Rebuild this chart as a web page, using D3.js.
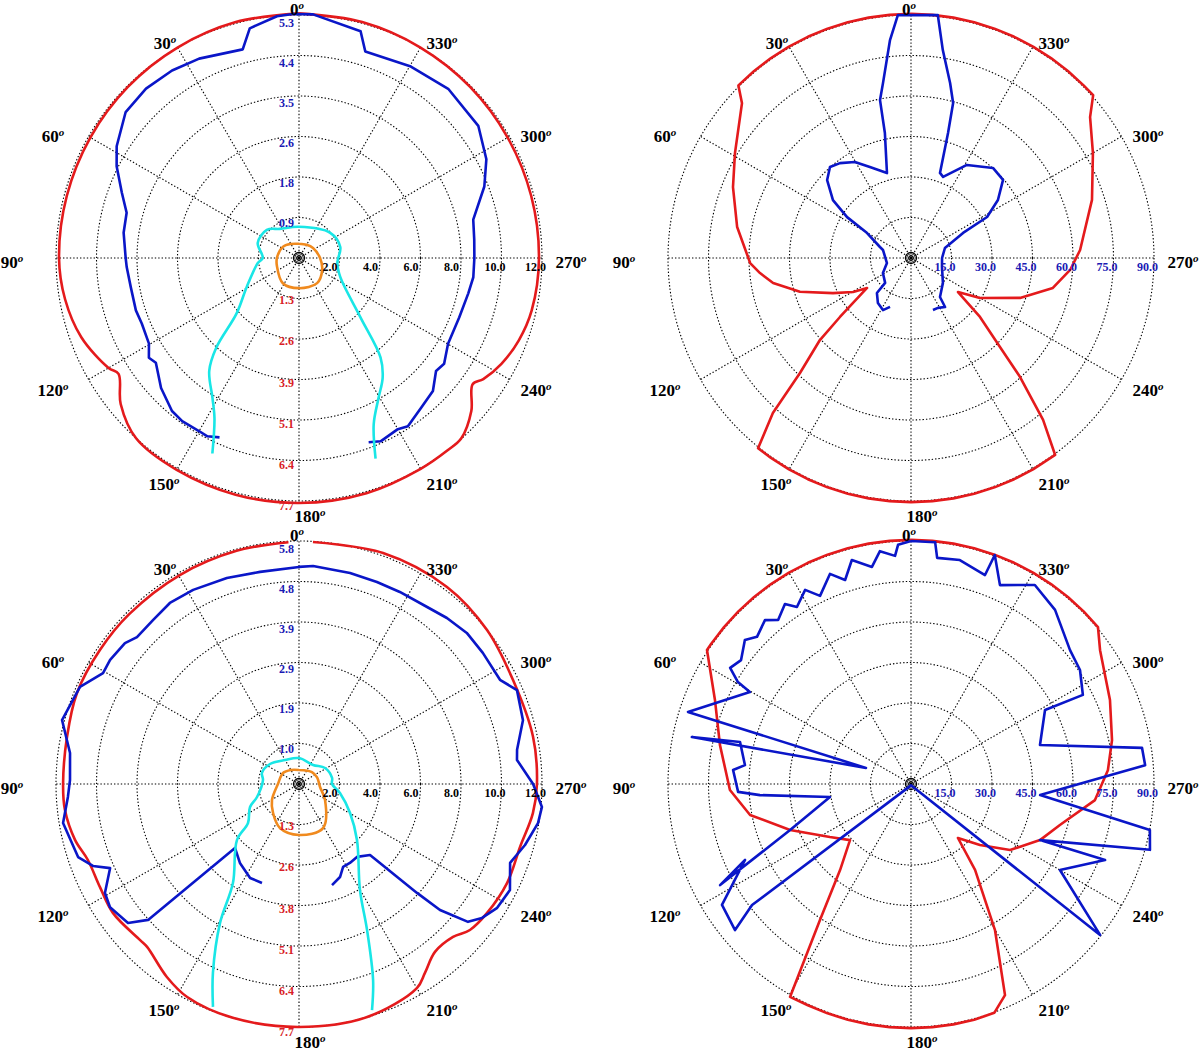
<html>
<head>
<script src="https://d3js.org/d3.v7.min.js"></script>
<style>
  body { margin: 0; background: #fff; }
  text { font-family: "Liberation Serif", "Times New Roman", serif; font-weight: bold; }
</style>
</head>
<body>
<script>
// ---- data (angle in degrees, counter-clockwise from top; radius in axis units) ----
const angleTicks = [0, 30, 60, 90, 120, 150, 180, 210, 240, 270, 300, 330];

const leftRings = [2, 4, 6, 8, 10, 12];
const leftRingLabels = ["2.0", "4.0", "6.0", "8.0", "10.0", "12.0"];
const rightRings = [15, 30, 45, 60, 75, 90];
const rightRingLabels = ["15.0", "30.0", "45.0", "60.0", "75.0", "90.0"];

const tlBlueScale = ["0.9", "1.8", "2.6", "3.5", "4.4", "5.3"];
const tlRedScale = ["1.3", "2.6", "3.9", "5.1", "6.4", "7.7"];
const blBlueScale = ["1.0", "1.9", "2.9", "3.9", "4.8", "5.8"];
const blRedScale = ["1.3", "2.6", "3.8", "5.1", "6.4", "7.7"];

// top-left
const tlRedA = [0,15,30,45,60,75,90,100,110,120,122.7,129.3,137.9,150,165,180,196,210,217.6,222,228.4,234,236.7,242.4,249.4,257.3,270,285,300,315,330,345,360];
const tlRedR = [12.08,12.06,12.0,11.95,11.9,11.87,11.85,11.73,11.44,10.86,10.59,11.38,12.0,12.08,12.1,12.1,12.08,12.02,12.0,11.98,11.38,10.6,10.89,11.28,11.59,11.78,11.85,11.87,11.9,11.95,12.0,12.06,12.08];
const tlBlueA = [156.1,152.8,150.1,144.4,140.3,133.3,126.2,123.6,119.7,112.6,107.8,99.9,93,90,81.8,75.3,69.7,63.3,58.5,49.9,42.1,34.1,26.6,15.1,12.1,5.2,1.4,-3.3,-15.2,-17.8,-30.3,-41.4,-53.6,-62.2,-68.9,-77.6,-84.1,-90,-96.3,-101.8,-110.4,-119.9,-126.1,-129.5,-134.8,-140.9,-147.1,-150,-156,-159.3];
const tlBlueR = [9.69,9.9,9.87,9.91,9.82,9.36,8.76,8.9,8.53,8.41,8.46,8.43,8.52,8.56,8.75,8.8,9.33,10.08,10.56,11.19,11.27,11.18,11.01,10.67,11.6,11.99,12.05,12.05,11.6,10.71,10.95,11.14,11.0,10.46,9.81,8.81,8.7,8.66,8.66,8.54,8.44,8.49,8.87,8.77,9.32,9.55,9.9,9.76,9.91,9.73];
const tlCyanA = [156.1,152.2,148.3,141.5,137.3,131.6,119.1,97,90,69.9,48.8,33.2,0,-51.1,-75,-90,-97.5,-114.9,-134,-140.7,-145.1,-150.4,-155.8,-159.1];
const tlCyanR = [10.56,8.95,8.13,7.12,6.02,4.12,2.96,2.05,1.79,2.17,2.11,1.72,1.54,1.98,2.11,1.94,1.91,2.25,4.22,6.36,7.22,7.95,9.0,10.6];
const tlOrangeA = [0,30,55.5,90,110,147.4,180,215.8,242.4,270,305.5,330,360];
const tlOrangeR = [0.7,0.8,0.97,1.09,1.16,1.48,1.49,1.53,1.29,1.04,0.85,0.75,0.7];

// top-right
const trRedA = [0,5,10,15,20,25,30,35,40,45,47.5,59.2,68.3,79.9,91.8,95.7,100.3,106.9,114.2,120.4,124.3,129.7,132,136,138.3,141.2,
  145,150,155,160,165,170,175,180,185,190,195,200,205,210,216.2,219.2,222.5,225,229.5,234.1,239.9,249.9,258.1,265.7,272.7,287.8,300,308.2,311.8,
  315,320,325,330,335,340,345,350,355,360];
const trRedR = [90.4,90.4,90.4,90.4,90.4,90.4,90.4,90.4,90.4,90.4,84.9,75.9,70.96,65.4,59.6,56.2,51.9,43,31.7,24.9,19.7,34.2,45.4,59.2,76.9,90.4,
  90.4,90.4,90.4,90.4,90.4,90.4,90.4,90.4,90.4,90.4,90.4,90.4,90.4,90.4,90.4,77.4,59.8,46.6,33.6,21.5,29.5,43,53.7,59.1,62.7,70.4,77.8,84.4,90.5,
  90.4,90.4,90.4,90.4,90.4,90.4,90.4,90.4,90.4,90.4];
const trBlueA = [156.8,151.7,143.7,135.8,133.9,118.2,101.8,74,70.5,60.4,57.4,53.4,47.1,41.7,36.8,30.3,24.3,15.8,11.8,11.1,9.1,5.5,3.1,-6.3,-8.7,-12.6,-15.2,-16.5,-18.8,-21.6,-31,-42.3,-49.7,-56.3,-61.7,-64.3,-73.6,-90,-106.2,-128,-143.4,-145.2,-151.6,-157.1];
const trBlueR = [19.7,21.9,20.7,18.1,13.3,11.8,9.1,10.8,12.2,18.7,28.1,36,42.4,45.1,43.9,41.2,37,32.7,47.3,59.6,65.6,81.1,90.1,90.5,77.9,66.4,59.5,48.3,33.3,32.3,40.2,45.1,44.7,38.7,32,21.4,13.1,11.5,11.95,15,18,22.1,21,20.9];

// bottom-left
const blRedA = [2.5,15,29.7,45,56,67.7,78.5,90,96.3,104,109.8,117.4,124.7,134.5,137,145.6,152.3,164.2,180,196.3,210,213.7,219,225.2,229.5,235.5,244.6,254.1,262.9,270,281.4,295.9,309.3,323.1,340,356.7];
const blRedR = [11.95,11.92,11.88,11.86,11.85,11.85,11.69,11.65,11.63,11.4,11.08,11.07,11.18,11.0,11.0,11.55,11.88,12.0,12.0,11.99,11.64,11.21,10.67,10.72,11.1,11.26,11.38,11.35,11.64,11.75,11.79,11.75,12.0,12.17,12.14,11.97];
const blBlueA = [159.5,152.5,143.2,135,132,129.1,123.1,119.3,114,111.7,108.3,99.4,93.2,89,82.3,74.9,66.1,60.5,56.7,51,47.8,41.7,35.5,28.6,19.3,10.4,0,-3.7,-13.6,-21.1,-27.7,-35.9,-41.7,-48,-54.5,-62.6,-66.7,-74.1,-81.1,-83.7,-90,-95.4,-99.3,-105.1,-110.5,-116.7,-122,-126.2,-129.2,-131.8,-132.7,-135,-141.5,-147.2,-152,-156.2,-161.9];
const blBlueR = [5.22,5.23,4.87,4.47,10.03,10.88,11.14,10.99,10.21,10.95,11.49,11.81,11.43,11.31,11.41,12.12,11.83,11.12,11.16,11.06,10.8,10.84,10.98,10.92,10.78,10.65,10.72,10.79,10.72,10.69,10.71,10.79,10.98,11.15,11.15,11.18,11.72,11.5,10.9,10.83,11.56,12.05,11.96,11.56,11.13,11.66,11.54,11.2,10.77,9.34,7.93,4.96,4.6,4.64,4.64,5.02,5.25];
const blCyanA = [158.9,155.5,150.4,146.3,132.1,127.4,115.1,107.2,83.7,73.4,55.4,30.3,0,-36.4,-58.4,-79.7,-90,-102.4,-119.6,-134,-150.1,-155,-159.3,-162.1];
const blCyanR = [11.8,10.25,7.9,5.88,4.13,3.17,2.67,2.17,1.79,1.91,1.74,1.37,1.28,1.17,1.51,1.66,1.63,2.07,2.9,3.98,6.04,7.95,10.35,11.73];
const blOrangeA = [0,30,55.5,90,120.6,138.1,156.6,180,208.6,238.4,261.9,290,312.7,340,360];
const blOrangeR = [0.69,0.8,0.96,1.04,1.55,1.92,2.37,2.52,2.48,1.51,1.05,0.95,0.87,0.72,0.69];

// bottom-right
const brRedA = [0,5,10,15,20,25,30,35,40,45,50,55,56.7,66.8,78.5,91.9,100.9,110.8,123.2,132.6,140.5,146.2,150.4,
  155,160,165,170,175,180,185,190,195,200,204,209.9,216.7,221,228.5,236.3,246.5,254.6,265,274,282.3,292.9,305.3,
  310,315,320,325,330,335,340,345,350,355,360];
const brRedR = [90.4,90.4,90.4,90.4,90.4,90.4,90.4,90.4,90.4,90.4,90.4,90.4,90.4,79,72.2,67.1,60.7,47.9,35.9,30.7,41.3,60.6,90.7,
  90.4,90.4,90.4,90.4,90.4,90.4,90.4,90.4,90.4,90.2,85.6,62.4,39.7,26.5,34.1,44.1,52.1,57.2,68.4,73.1,76.2,80,85.8,
  90.4,90.4,90.4,90.4,90.4,90.4,90.4,90.4,90.4,90.4,90.4];
const brBlueA = [0,3.1,4,7.6,10.2,14.8,17.9,21.1,25.8,28.6,32.8,35,39,41.7,46.3,49.1,53.9,57.3,59.5,60.3,72.1,70.4,77.9,76.2,83.5,85.5,92.6,94.2,99.1,110.8,117.9,114.6,122.6,129.7,127.3,180,
  231.4,240,248.6,246.5,254.6,259.1,265.1,274.6,278.9,286.8,298.9,297.4,304,310.1,320.4,328.1,335.9,339.9,340.5,347.7,353.4,354.3,360];
const brBlueR = [90,88.7,84.7,87,81.7,85.8,79.4,83.4,77.4,81.9,78,81.4,78.2,81.3,78.9,81.4,77.9,79.6,74.4,68.7,86.8,17.7,83,65.2,61.9,66.1,64.1,56.1,30.4,47.9,80,67.6,83.1,84.7,74,0.5,
  89.6,63.7,77.2,52.1,91.8,90.1,48,87,86.6,49.9,56.7,71.7,75.5,77,83.7,86.8,80.7,90.3,82.1,84.9,84.3,90,90];

// ---- layout ----
const W = 1200, H = 1051, R = 243;
const angleLabelPos = {0:[-2,-249],30:[-134,-215],60:[-246,-122],90:[-287,4],120:[-246,132],150:[-135,226],
  180:[11,258],210:[143,226],240:[237,132],270:[272,4],300:[237,-122],330:[143,-215]};

const colors = { red: "#e41a1c", blue: "#0a16c8", cyan: "#19e6e6", orange: "#f08a1e" };

const svg = d3.select("body").append("svg").attr("width", W).attr("height", H);

function drawPanel(p) {
  const g = svg.append("g").attr("transform", "translate(" + p.cx + "," + p.cy + ")");
  const r = d3.scaleLinear().domain([0, p.max]).range([0, R]);

  // spokes
  g.selectAll("line.spoke").data(angleTicks).enter().append("line")
    .attr("x1", 0).attr("y1", 0)
    .attr("x2", d => -R * Math.sin(d * Math.PI / 180))
    .attr("y2", d => -R * Math.cos(d * Math.PI / 180))
    .attr("stroke", "#000").attr("stroke-width", 1.1).attr("stroke-dasharray", "1.4,2");

  // rings
  g.selectAll("circle.ring").data(p.rings).enter().append("circle")
    .attr("r", d => r(d)).attr("fill", "none")
    .attr("stroke", "#000").attr("stroke-width", 1.1).attr("stroke-dasharray", "1.4,2");

  // centre marker
  g.append("circle").attr("r", 5.5).attr("fill", "none").attr("stroke", "#000").attr("stroke-width", 1.3);
  g.append("circle").attr("r", 2.3).attr("fill", "none").attr("stroke", "#000").attr("stroke-width", 1.3);

  // series
  p.series.forEach(s => {
    const line = d3.lineRadial()
      .angle(d => -d[0] * Math.PI / 180)
      .radius(d => r(d[1]))
      .curve(s.smooth ? d3.curveCatmullRom.alpha(0.5) : d3.curveLinear);
    g.append("path").datum(d3.zip(s.a, s.r))
      .attr("d", line).attr("fill", "none")
      .attr("stroke", s.color).attr("stroke-width", 2.6)
      .attr("stroke-linejoin", "round");
  });

  // ring labels along 270 deg
  g.selectAll("text.ring").data(p.rings).enter().append("text")
    .attr("x", d => r(d) - 17).attr("y", 13)
    .attr("font-size", 12).attr("fill", p.ringColor)
    .text((d, i) => p.ringLabels[i]);

  // secondary scales along 0 / 180 deg
  if (p.upScale) {
    g.selectAll("text.up").data(p.upScale).enter().append("text")
      .attr("x", -5).attr("y", (d, i) => -r(p.rings[i]) * 0.988 + 9)
      .attr("text-anchor", "end").attr("font-size", 12).attr("fill", "#1a1ab4")
      .text(d => d);
    g.selectAll("text.down").data(p.downScale).enter().append("text")
      .attr("x", -5).attr("y", (d, i) => r(p.rings[i]) * 1.018 + 5)
      .attr("text-anchor", "end").attr("font-size", 12).attr("fill", "#d81e28")
      .text(d => d);
  }

  // angle labels, degree sign as a small raised o
  const lab = g.selectAll("text.ang").data(angleTicks).enter().append("text")
    .attr("x", d => angleLabelPos[d][0]).attr("y", d => angleLabelPos[d][1] + 6)
    .attr("text-anchor", "middle").attr("font-size", 17).attr("fill", "#000");
  lab.append("tspan").text(d => d);
  lab.append("tspan").attr("font-size", 11).attr("font-style", "italic").attr("dy", -6).text("o");
}

const panels = [
  { cx: 299, cy: 258, max: 12, rings: leftRings, ringLabels: leftRingLabels, ringColor: "#000",
    upScale: tlBlueScale, downScale: tlRedScale,
    series: [
      { a: tlRedA, r: tlRedR, color: colors.red, smooth: true },
      { a: tlBlueA, r: tlBlueR, color: colors.blue },
      { a: tlCyanA, r: tlCyanR, color: colors.cyan, smooth: true },
      { a: tlOrangeA, r: tlOrangeR, color: colors.orange, smooth: true }
    ] },
  { cx: 911, cy: 258, max: 90, rings: rightRings, ringLabels: rightRingLabels, ringColor: "#1a1ab4",
    series: [
      { a: trRedA, r: trRedR, color: colors.red },
      { a: trBlueA, r: trBlueR, color: colors.blue }
    ] },
  { cx: 299, cy: 784, max: 12, rings: leftRings, ringLabels: leftRingLabels, ringColor: "#000",
    upScale: blBlueScale, downScale: blRedScale,
    series: [
      { a: blRedA, r: blRedR, color: colors.red, smooth: true },
      { a: blBlueA, r: blBlueR, color: colors.blue },
      { a: blCyanA, r: blCyanR, color: colors.cyan, smooth: true },
      { a: blOrangeA, r: blOrangeR, color: colors.orange, smooth: true }
    ] },
  { cx: 911, cy: 784, max: 90, rings: rightRings, ringLabels: rightRingLabels, ringColor: "#1a1ab4",
    series: [
      { a: brRedA, r: brRedR, color: colors.red },
      { a: brBlueA, r: brBlueR, color: colors.blue }
    ] }
];

panels.forEach(drawPanel);
</script>
</body>
</html>
